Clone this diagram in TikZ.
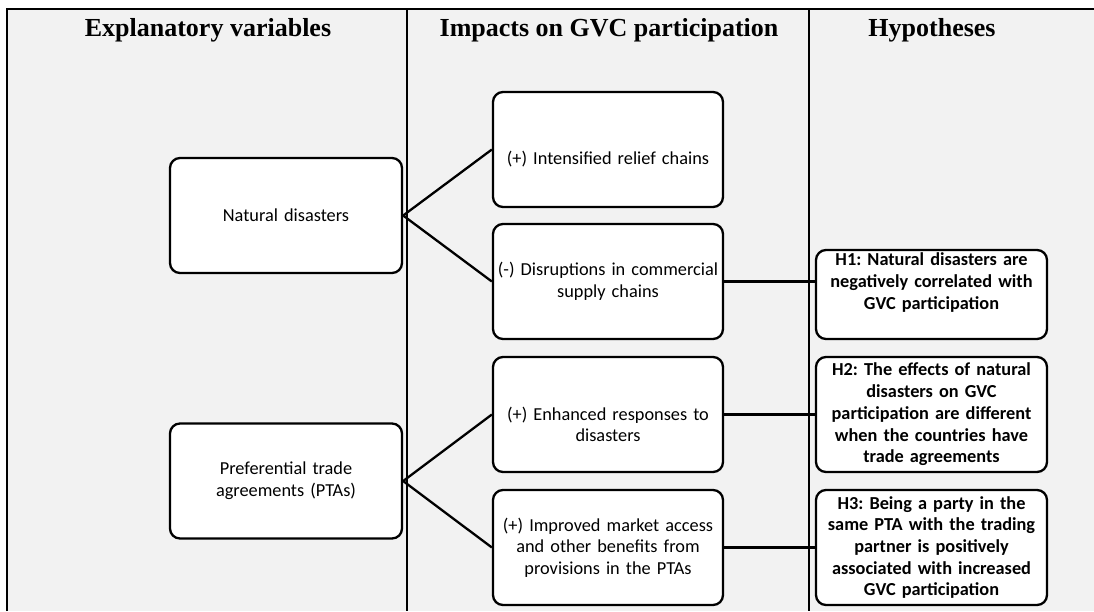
\documentclass[tikz,border=0pt]{standalone}
\usepackage{fontspec}
\setmainfont{Carlito}
\newfontfamily\headfont{Liberation Serif}
\usetikzlibrary{positioning,calc}
\definecolor{panelGray}{RGB}{242,242,242}
\frenchspacing

\begin{document}
\begin{tikzpicture}[
    x=1pt, y=-1pt,
    head/.style={font=\headfont\bfseries\fontsize{26}{30}\selectfont, anchor=base},
    box/.style={rectangle, draw, line width=2.3pt, rounded corners=10pt, fill=white,
        minimum width=232pt, minimum height=115pt, text width=224pt, align=center,
        inner sep=3pt, font=\fontsize{18.3}{21.7}\selectfont},
    hyp/.style={box, minimum width=231pt, font=\bfseries\fontsize{18.3}{21.7}\selectfont},
    link/.style={line width=2.3pt}
]
    % panel and columns
    \useasboundingbox (0,0) rectangle (1094,611);
    \fill[white] (0,0) rectangle (1094,611);
    \fill[panelGray] (7,9) rectangle (1094,611);
    \draw[line width=2.5pt] (7,611) -- (7,9) -- (1094,9);
    \draw[line width=2pt] (407,9) -- (407,611);
    \draw[line width=2pt] (809,9) -- (809,611);

    \node[head] (hExpl) at (208,36) {Explanatory variables};
    \node[head] (hImp) at (609,36) {Impacts on GVC participation};
    \node[head] (hHyp) at (932,36) {Hypotheses};

    % explanatory variables
    \node[box] (nat) at (286,215.5) {Natural disasters};
    \node[box] (pta) at (286,481) {Preferential trade\\agreements (PTAs)};

    % impacts
    \node[box, minimum width=230pt, text height=33pt] (relief) at (608,149.5) {(+) Intensified relief chains};
    \node[box, minimum width=230pt] (disrupt) at (608,281.5) {(-) Disruptions in commercial\\supply chains};
    \node[box, minimum width=230pt, text height=33pt] (enhance) at (608,414.5) {(+) Enhanced responses to\\disasters};
    \node[box, minimum width=230pt] (access) at (608,547.5) {(+) Improved market access\\and other benefits from\\provisions in the PTAs};

    % hypotheses
    \node[hyp, minimum height=89pt, text depth=70pt] (hypA) at (931.5,294.5) {H1: Natural disasters are\\negatively correlated with\\GVC participation};
    \node[hyp] (hypB) at (931.5,414.5) {H2: The effects of natural\\disasters on GVC\\participation are different\\when the countries have\\trade agreements};
    \node[hyp] (hypC) at (931.5,547.5) {H3: Being a party in the\\same PTA with the trading\\partner is positively\\associated with increased\\GVC participation};

    \draw[link] (relief.west) -- (nat.east) -- (disrupt.west);
    \draw[link] (enhance.west) -- (pta.east) -- (access.west);
    \draw[link] (disrupt.east) -- (disrupt.east -| hypA.west);
    \draw[link] (enhance.east) -- (enhance.east -| hypB.west);
    \draw[link] (access.east) -- (access.east -| hypC.west);
\end{tikzpicture}
\end{document}
